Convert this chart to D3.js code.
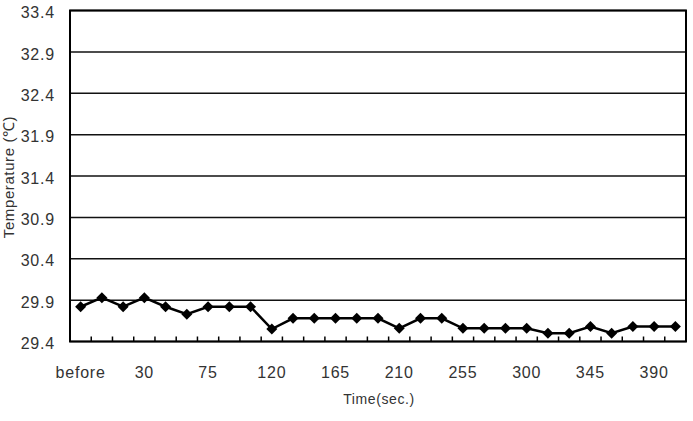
<!DOCTYPE html>
<html>
    <head>
        <title></title>
        <style>
            body { margin: 0; background: #fff; }
            text { font-family: "Liberation Sans", Arial, sans-serif; fill: #333; }
        </style>
    </head>
    <body>
        <script src="https://cdnjs.cloudflare.com/ajax/libs/d3/7.8.5/d3.min.js"></script>
        <script>

        // data
        var categories = ["before", "0", "15", "30", "45", "60", "75", "90", "105", "120",
                          "135", "150", "165", "180", "195", "210", "225", "240", "255", "270",
                          "285", "300", "315", "330", "345", "360", "375", "390", "405"];
        var temps = [29.82, 29.93, 29.82, 29.93, 29.82, 29.73, 29.82, 29.82, 29.82, 29.55,
                     29.68, 29.68, 29.68, 29.68, 29.68, 29.56, 29.68, 29.68, 29.56, 29.56,
                     29.56, 29.56, 29.50, 29.50, 29.58, 29.50, 29.58, 29.58, 29.58];
        var yTicks = [29.4, 29.9, 30.4, 30.9, 31.4, 31.9, 32.4, 32.9, 33.4];
        var xLabels = ["before", "30", "75", "120", "165", "210", "255", "300", "345", "390"];

        var w = 693, h = 421;
        var plotLeft = 70, plotRight = 686, plotTop = 10.5, plotBottom = 341.5;

        var svg = d3.select("body").append("svg")
            .attr("width", w)
            .attr("height", h);

        var xScale = d3.scaleBand()
            .domain(categories)
            .range([plotLeft, plotRight])
            .padding(0);

        var yScale = d3.scaleLinear()
            .domain([29.4, 33.4])
            .range([plotBottom, plotTop]);

        // gridlines
        svg.selectAll("line.grid")
            .data(yTicks)
            .enter()
            .append("line")
            .attr("class", "grid")
            .attr("x1", plotLeft)
            .attr("x2", plotRight)
            .attr("y1", function(d) { return yScale(d); })
            .attr("y2", function(d) { return yScale(d); })
            .attr("stroke", "#111")
            .attr("stroke-width", 1.5);

        // y axis labels
        var yAxis = d3.axisLeft(yScale)
            .tickValues(yTicks)
            .tickFormat(d3.format(".1f"))
            .tickSize(0)
            .tickPadding(15);

        var gy = svg.append("g")
            .attr("transform", "translate(" + plotLeft + ",0)")
            .call(yAxis);
        gy.select(".domain").remove();
        gy.selectAll("text")
            .attr("font-size", "16px")
            .attr("letter-spacing", "0.8px")
            .attr("dy", "0.45em")
            .style("font-family", "'Liberation Sans', Arial, sans-serif")
            .attr("fill", "#333");

        // x tick marks at category boundaries
        svg.selectAll("line.xtick")
            .data(categories.slice(1))
            .enter()
            .append("line")
            .attr("class", "xtick")
            .attr("x1", function(d) { return xScale(d); })
            .attr("x2", function(d) { return xScale(d); })
            .attr("y1", plotBottom)
            .attr("y2", plotBottom - 5)
            .attr("stroke", "#000")
            .attr("stroke-width", 1.5);

        // x labels
        svg.selectAll("text.xlab")
            .data(xLabels)
            .enter()
            .append("text")
            .attr("class", "xlab")
            .attr("x", function(d) { return xScale(d) + xScale.bandwidth() / 2; })
            .attr("y", 378)
            .attr("text-anchor", "middle")
            .attr("font-size", "16px")
            .attr("letter-spacing", "0.8px")
            .text(function(d) { return d; });

        // frame
        svg.append("rect")
            .attr("x", plotLeft)
            .attr("y", plotTop)
            .attr("width", plotRight - plotLeft)
            .attr("height", plotBottom - plotTop)
            .attr("fill", "none")
            .attr("stroke", "#000")
            .attr("stroke-width", 2);

        // line
        var line = d3.line()
            .x(function(d, i) { return xScale(categories[i]) + xScale.bandwidth() / 2; })
            .y(function(d) { return yScale(d); });

        svg.append("path")
            .datum(temps)
            .attr("d", line)
            .attr("fill", "none")
            .attr("stroke", "#000")
            .attr("stroke-width", 2.5);

        // diamond markers
        svg.selectAll("path.marker")
            .data(temps)
            .enter()
            .append("path")
            .attr("class", "marker")
            .attr("d", "M0,-5.5L5.5,0L0,5.5L-5.5,0Z")
            .attr("transform", function(d, i) {
                return "translate(" + (xScale(categories[i]) + xScale.bandwidth() / 2) + "," + yScale(d) + ")";
            })
            .attr("fill", "#000");

        // axis titles
        svg.append("text")
            .attr("x", 379)
            .attr("y", 404)
            .attr("text-anchor", "middle")
            .attr("font-size", "14px")
            .attr("letter-spacing", "0.6px")
            .text("Time(sec.)");

        svg.append("text")
            .attr("transform", "translate(14,177) rotate(-90)")
            .attr("text-anchor", "middle")
            .attr("font-size", "15px")
            .attr("letter-spacing", "0.6px")
            .text("Temperature (\u2103)");

        </script>
    </body>
</html>
